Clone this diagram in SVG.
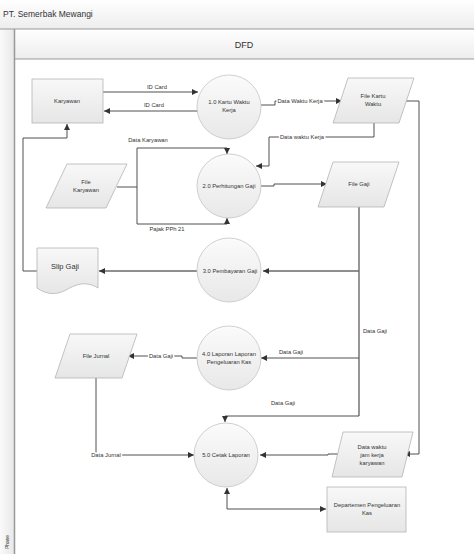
<svg xmlns="http://www.w3.org/2000/svg" width="474" height="554" viewBox="0 0 474 554">
<style>
text{font-family:"Liberation Sans",Arial,sans-serif;font-size:5.8px;fill:#333;text-anchor:middle}
.shape{fill:url(#g);stroke:#b4b4b4;stroke-width:0.8}
.circ{fill:url(#gc);stroke:#c4c4c4;stroke-width:0.8}
.c{fill:none;stroke:#505050;stroke-width:1}
.ct{fill:none;stroke:#6a6a6a;stroke-width:1.4}
.bg{stroke:#fff;stroke-width:3;paint-order:stroke}
</style>
<defs>
<linearGradient id="g" x1="0" y1="0" x2="0" y2="1"><stop offset="0" stop-color="#f8f8f8"/><stop offset="1" stop-color="#e6e6e6"/></linearGradient>
<linearGradient id="gc" x1="0" y1="0" x2="0" y2="1"><stop offset="0" stop-color="#fbfbfb"/><stop offset="1" stop-color="#e8e8e8"/></linearGradient>
<linearGradient id="gh" x1="0" y1="0" x2="0" y2="1"><stop offset="0" stop-color="#ffffff"/><stop offset="1" stop-color="#ededed"/></linearGradient>
<linearGradient id="gl" x1="0" y1="0" x2="1" y2="0"><stop offset="0" stop-color="#fafafa"/><stop offset="1" stop-color="#e8e8e8"/></linearGradient>
<marker id="a" markerUnits="userSpaceOnUse" markerWidth="7" markerHeight="7" viewBox="0 0 7 7" refX="6" refY="3.5" orient="auto-start-reverse"><path d="M0,0.5 L6,3.5 L0,6.5 z" fill="#333"/></marker>
</defs>
<rect width="474" height="554" fill="#fff"/>
<g id="header">
<rect x="0" y="0" width="474" height="29" fill="url(#gh)"/>
<text x="3" y="17" style="font-size:8.5px;text-anchor:start">PT. Semerbak Mewangi</text>
<rect x="0" y="29" width="14" height="525" fill="url(#gl)"/>
<rect x="14" y="29" width="460" height="30" fill="url(#gh)"/>
<line x1="0" y1="29" x2="474" y2="29" stroke="#999" stroke-width="1"/>
<line x1="14" y1="59" x2="474" y2="59" stroke="#999" stroke-width="1"/>
<line x1="14.5" y1="29" x2="14.5" y2="554" stroke="#999" stroke-width="1.5"/>
<text x="244" y="48" style="font-size:9px">DFD</text>
<text transform="translate(9,542) rotate(-90)" style="font-size:5px">Phase</text>
</g>
<g id="connectors">
<path class="c" d="M103,92 H198" marker-end="url(#a)"/>
<path class="c" d="M198,111 H104" marker-end="url(#a)"/>
<path class="c" d="M261,105 H275 V101 H342" marker-end="url(#a)"/>
<path class="c" d="M374,123 V137 H269 V166 H256" marker-end="url(#a)"/>
<path class="c" d="M117,187 H137 V148 H227 V154" marker-end="url(#a)"/>
<path class="c" d="M137,187 V224 H227 V218" marker-end="url(#a)"/>
<path class="c" d="M261,186 H274 V184 H327" marker-end="url(#a)"/>
<path class="ct" d="M359,207 V416"/>
<path class="c" d="M359,416 H225 V422" marker-end="url(#a)"/>
<path class="ct" d="M359,271 H263" marker-end="url(#a)"/>
<path class="c" d="M359,358 H261" marker-end="url(#a)"/>
<path class="ct" d="M197,271 H99" marker-end="url(#a)"/>
<path class="c" d="M37,271 H23 V138 H67 V124" marker-end="url(#a)"/>
<path class="c" d="M197,358 H182 V356 H128" marker-end="url(#a)"/>
<path class="c" d="M96,378 V455 H194" marker-end="url(#a)"/>
<path class="c" d="M406,101 H419 V454 H404" marker-end="url(#a)"/>
<path class="c" d="M338,454 H328 V455 H260" marker-end="url(#a)"/>
<path class="c" d="M227,488 V509 H326" marker-start="url(#a)" marker-end="url(#a)"/>
<text x="157" y="89">ID Card</text>
<text x="154" y="107">ID Card</text>
<text x="300" y="103" class="bg">Data Waktu Kerja</text>
<text x="302" y="139" class="bg">Data waktu Kerja</text>
<text x="148" y="142">Data Karyawan</text>
<text x="167" y="231">Pajak PPh 21</text>
<text x="375" y="333">Data Gaji</text>
<text x="291" y="354">Data Gaji</text>
<text x="161" y="358" class="bg">Data Gaji</text>
<text x="283" y="405">Data Gaji</text>
<text x="106" y="457" class="bg">Data Jurnal</text>
</g>
<g id="karyawan">
<rect class="shape" x="32" y="79" width="71" height="44"/>
<text x="67" y="103">Karyawan</text>
</g>
<g id="p1">
<circle class="circ" cx="229" cy="107" r="32"/>
<text x="229" y="104">1.0 Kartu Waktu</text>
<text x="229" y="112">Kerja</text>
</g>
<g id="file-kartu-waktu">
<polygon class="shape" points="348,78 414,78 399,123 333,123"/>
<text x="373" y="98">File Kartu</text>
<text x="373" y="106">Waktu</text>
</g>
<g id="file-karyawan">
<polygon class="shape" points="67,164 127,164 106,208 46,208"/>
<text x="86" y="184">File</text>
<text x="86" y="192">Karyawan</text>
</g>
<g id="p2">
<circle class="circ" cx="229" cy="186" r="32"/>
<text x="229" y="188">2.0 Perhitungan Gaji</text>
</g>
<g id="file-gaji">
<polygon class="shape" points="333,162 399,162 384,207 318,207"/>
<text x="359" y="186">File Gaji</text>
</g>
<g id="slip-gaji">
<path class="shape" d="M37,248 H98 V288 C85,280 75,285 66,290 C57,295 47,295 37,288 Z"/>
<text x="65" y="269" style="font-size:7.5px">Slip Gaji</text>
</g>
<g id="p3">
<circle class="circ" cx="229" cy="270" r="32"/>
<text x="230" y="273">3.0 Pembayaran Gaji</text>
</g>
<g id="file-jurnal">
<polygon class="shape" points="70,334 137,334 122,378 55,378"/>
<text x="96" y="358">File Jurnal</text>
</g>
<g id="p4">
<circle class="circ" cx="229" cy="358" r="32"/>
<text x="229" y="356">4.0 Laporan Laporan</text>
<text x="229" y="364">Pengeluaran Kas</text>
</g>
<g id="p5">
<circle class="circ" cx="226" cy="455" r="32"/>
<text x="226" y="457">5.0 Cetak Laporan</text>
</g>
<g id="data-waktu">
<polygon class="shape" points="343,432 413,432 402,477 332,477"/>
<text x="372" y="449">Data waktu</text>
<text x="372" y="457">jam kerja</text>
<text x="372" y="465">karyawan</text>
</g>
<g id="departemen">
<rect class="shape" x="327" y="487" width="79" height="45"/>
<text x="367" y="507">Departemen Pengeluaran</text>
<text x="367" y="515">Kas</text>
</g>
</svg>
